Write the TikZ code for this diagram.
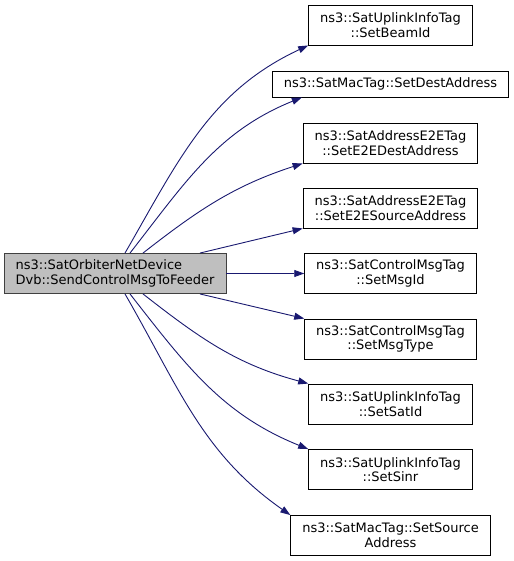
\documentclass[tikz,border=0pt]{standalone}
\usepackage{fontspec}
\setmainfont{DejaVu Sans}
\usetikzlibrary{arrows.meta}
\definecolor{callblue}{HTML}{191970}
\definecolor{maingray}{HTML}{BFBFBF}
\definecolor{mainedge}{HTML}{404040}
\begin{document}
\begin{tikzpicture}[>={Triangle[length=10pt,width=7pt]},
    fn/.style={draw=black, line width=0.9pt, fill=white, align=center,
      font=\fontsize{13}{14.5}\selectfont, inner xsep=11.5pt, inner ysep=2pt,
      minimum height=26pt},
    fn2/.style={fn, minimum height=40pt},
    call/.style={->, draw=callblue, line width=0.9pt}]
    \def\x{1pt}
    \def\y{-1pt}
    \useasboundingbox (0,0) rectangle (513*\x, 561*\y);
    \node [fn2, fill=maingray, draw=mainedge, align=left, minimum width=222pt] (A0_0) at (115*\x, 273.5*\y)
      {ns3::SatOrbiterNetDevice\\Dvb::SendControlMsgToFeeder};
    \node [fn2] (A1_0) at (390.5*\x, 25*\y) {ns3::SatUplinkInfoTag\\::SetBeamId};
    \node [fn] (A1_1) at (390.5*\x, 84*\y) {ns3::SatMacTag::SetDestAddress};
    \node [fn2] (A1_2) at (390.5*\x, 143*\y) {ns3::SatAddressE2ETag\\::SetE2EDestAddress};
    \node [fn2] (A1_3) at (390.5*\x, 208*\y) {ns3::SatAddressE2ETag\\::SetE2ESourceAddress};
    \node [fn2] (A1_4) at (390.5*\x, 273.5*\y) {ns3::SatControlMsgTag\\::SetMsgId};
    \node [fn2] (A1_5) at (390.5*\x, 339*\y) {ns3::SatControlMsgTag\\::SetMsgType};
    \node [fn2] (A1_6) at (390.5*\x, 404*\y) {ns3::SatUplinkInfoTag\\::SetSatId};
    \node [fn2] (A1_7) at (390.5*\x, 469.5*\y) {ns3::SatUplinkInfoTag\\::SetSinr};
    \node [fn2] (A1_8) at (390.5*\x, 535.5*\y) {ns3::SatMacTag::SetSource\\Address};
    \path ([xshift=10*\x]A0_0.north) edge [call, out=60, in=205] (A1_0.south west);
    \path ([xshift=15*\x]A0_0.north) edge [call, out=52, in=202] ([xshift=30*\x]A1_1.south west);
    \path ([xshift=28*\x]A0_0.north) edge [call, out=38, in=198] (A1_2.south west);
    \path ([xshift=85*\x]A0_0.north) edge [call] (A1_3.south west);
    \path (A0_0.east) edge [call] (A1_4.west);
    \path ([xshift=85*\x]A0_0.south) edge [call] (A1_5.north west);
    \path ([xshift=28*\x]A0_0.south) edge [call, out=-38, in=165] (A1_6.north west);
    \path ([xshift=15*\x]A0_0.south) edge [call, out=-52, in=158] (A1_7.north west);
    \path ([xshift=10*\x]A0_0.south) edge [call, out=-60, in=145] (A1_8.north west);
  \end{tikzpicture}
\end{document}
